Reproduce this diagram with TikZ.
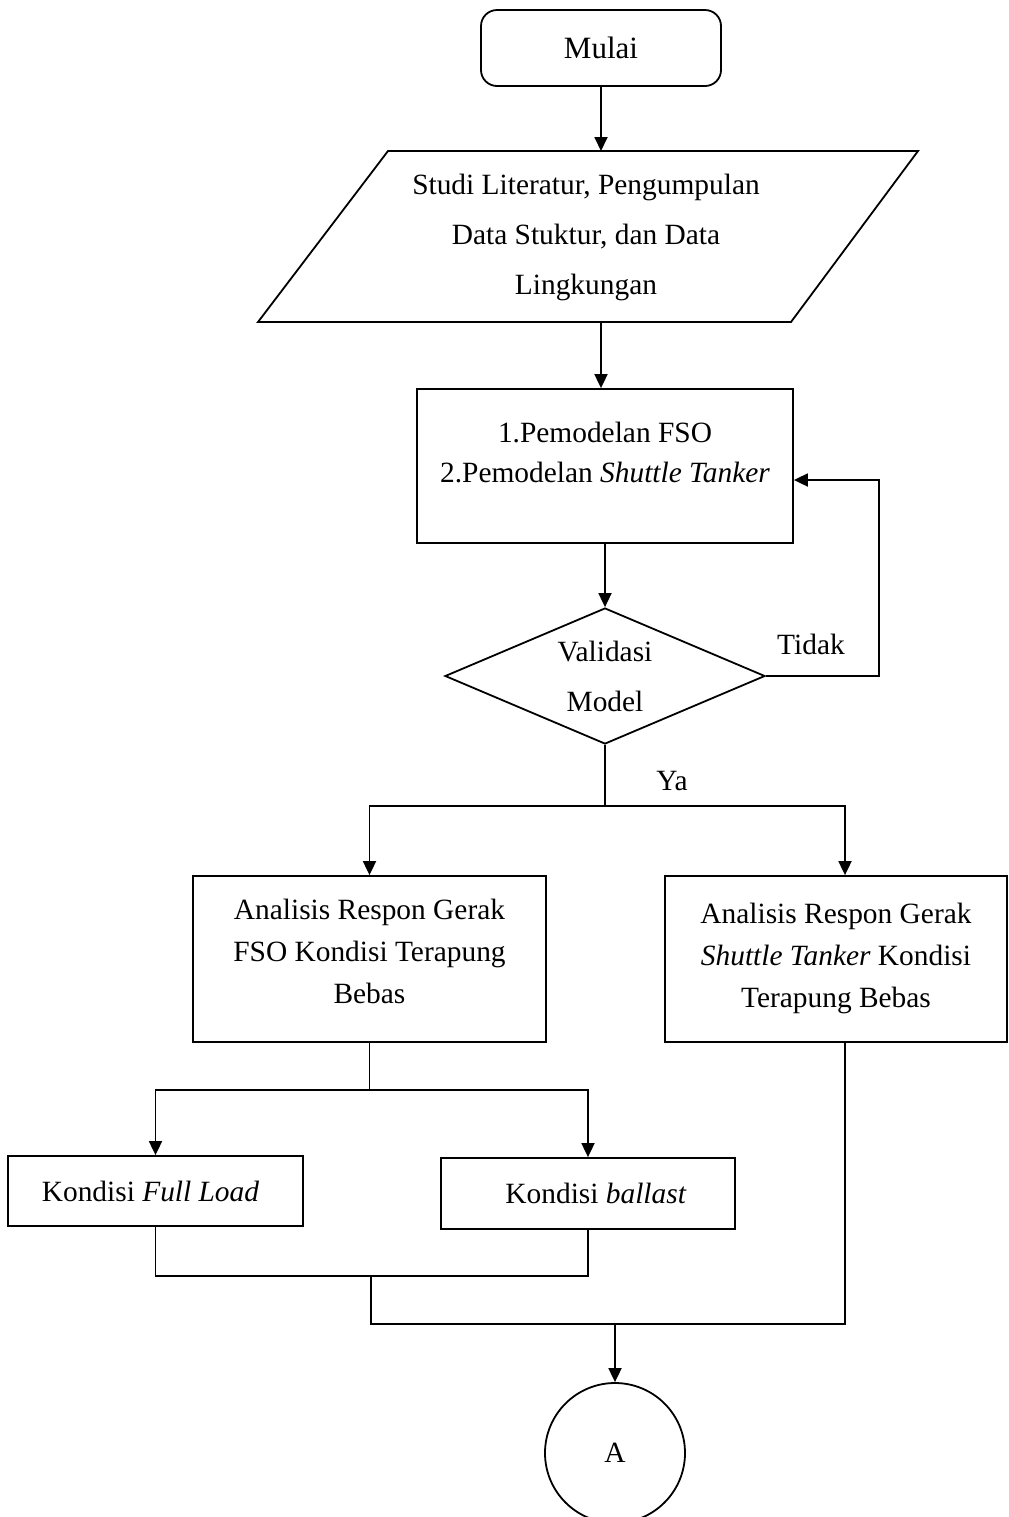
\documentclass[tikz,border=0pt]{standalone}
\usepackage{fontspec}
\setmainfont{Liberation Serif}
\usetikzlibrary{shapes.geometric,arrows.meta}

\tikzset{
  flow/.style={draw, line width=0.9pt, inner sep=0pt, align=center,
    font=\fontsize{14.7}{21}\selectfont},
  startbox/.style={flow, rounded corners=8pt, minimum width=120pt, minimum height=38pt},
  procbox/.style={flow, rectangle},
  decision/.style={flow, diamond, aspect=2.32, minimum width=160pt, minimum height=68pt,
    font=\fontsize{14.7}{25}\selectfont},
  connector/.style={flow, circle, minimum size=70pt},
  label/.style={inner sep=0pt, font=\fontsize{14.7}{18}\selectfont},
  line/.style={line width=0.9pt},
}

\begin{document}
\begin{tikzpicture}[x=0.5pt, y=-0.5pt, >={Triangle[length=7pt,width=6.5pt]}]
        \useasboundingbox (0,0) rectangle (1008,1517);

        % Start
        \node[startbox, font=\fontsize{15.5}{18}\selectfont] (mulai) at (601,48) {Mulai};

        % Input data (parallelogram)
        \coordinate (litTop) at (601,151);
        \coordinate (litBot) at (601,322);
        \draw[line] (388,151) -- (918,151) -- (791,322) -- (258,322) -- cycle;
        \node[label, align=center, font=\fontsize{14.7}{25}\selectfont] (lit) at (586,237)
          {Studi Literatur, Pengumpulan\\Data Stuktur, dan Data\\Lingkungan};

        % Modelling
        \node[procbox, minimum width=188pt, minimum height=77pt,
              font=\fontsize{14.7}{20}\selectfont] (model) at (605,466)
          {1.Pemodelan FSO\\2.Pemodelan \textit{Shuttle Tanker}\\[-6pt]};

        % Validation
        \node[decision] (valid) at (605,676) {Validasi\\Model};

        % Analyses
        \node[procbox, minimum width=176.5pt, minimum height=83pt] (anal1) at (369.5,959)
          {Analisis Respon Gerak\\FSO Kondisi Terapung\\Bebas\\[-13pt]};
        \node[procbox, minimum width=171pt, minimum height=83pt] (anal2) at (836,959)
          {Analisis Respon Gerak\\\textit{Shuttle Tanker} Kondisi\\Terapung Bebas\\[-17pt]};

        % Load cases
        \node[procbox, minimum width=147.5pt, minimum height=35pt] (full) at (155.5,1191)
          {\hspace{-5pt}Kondisi \textit{Full Load}};
        \node[procbox, minimum width=147pt, minimum height=35.5pt] (ballast) at (588,1193.5)
          {\hspace{8pt}Kondisi \textit{ballast}};

        % Off-page connector
        \node[connector] (lblA) at (615,1453) {A};

        % Labels
        \node[label] (tidak) at (811,644) {Tidak};
        \node[label] (ya) at (672,781) {Ya};

        % Junctions
        \coordinate (split1) at (605,806);
        \coordinate (split2) at (369.5,1090);
        \coordinate (merge1) at (371,1276);
        \coordinate (merge2) at (615,1324);

        % Connectors
        \draw[line, ->] (mulai.south) -- (litTop);
        \draw[line, ->] (litBot) -- (litBot |- model.north);
        \draw[line, ->] (model.south) -- (valid.north);
        \draw[line, ->] (valid.east) -- ++(113,0) |- ([yshift=-7pt]model.east);
        \draw[line] (valid.south) -- (split1);
        \draw[line, ->] (split1) -| (anal1.north);
        \draw[line, ->] (split1) -| ([xshift=4.5pt]anal2.north);
        \draw[line] (anal1.south) -- (split2);
        \draw[line, ->] (split2) -| (full.north);
        \draw[line, ->] (split2) -| (ballast.north);
        \draw[line] (full.south) |- (merge1) -| (ballast.south);
        \draw[line] (merge1) |- (merge2);
        \draw[line] ([xshift=4.5pt]anal2.south) |- (merge2);
        \draw[line, ->] (merge2) -- (lblA.north);
    \end{tikzpicture}
\end{document}
